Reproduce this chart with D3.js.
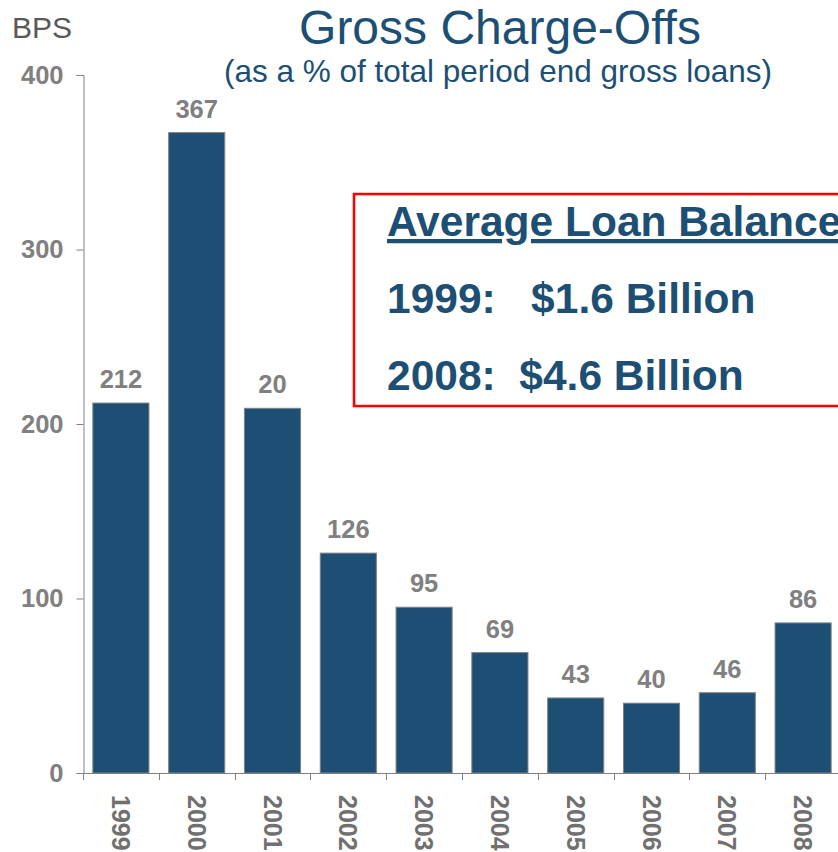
<!DOCTYPE html>
<html>
<head>
<meta charset="utf-8">
<script src="https://cdn.jsdelivr.net/npm/d3@7"></script>
<style>
  body { margin: 0; background: #fff; }
  svg { font-family: Arial, "Liberation Sans", sans-serif; display: block; }
</style>
</head>
<body>
<div id="chart"></div>
<script>
// Chart data
const years = ["1999", "2000", "2001", "2002", "2003", "2004", "2005", "2006", "2007", "2008"];
const chargeOffs = [212, 367, 209, 126, 95, 69, 43, 40, 46, 86];
const valueLabels = ["212", "367", "20", "126", "95", "69", "43", "40", "46", "86"];
const yTicks = [0, 100, 200, 300, 400];
const boxLines = ["1999:   $1.6 Billion", "2008:  $4.6 Billion"];

const width = 838;
const height = 852;
const blue = "#1c4f73";
const grey = "#808080";

const svg = d3.select("#chart")
    .append("svg")
    .attr("width", width)
    .attr("height", height);

// Scales
const x = d3.scaleBand()
    .domain(years)
    .range([83, 841])
    .paddingInner(0.26)
    .paddingOuter(0.13);

const y = d3.scaleLinear()
    .domain([0, 400])
    .range([773, 75]);

// Bars
svg.append("g")
    .selectAll("rect")
    .data(years)
    .enter().append("rect")
    .attr("x", (d, i) => x(d))
    .attr("y", (d, i) => y(chargeOffs[i]))
    .attr("width", x.bandwidth())
    .attr("height", (d, i) => y(0) - y(chargeOffs[i]))
    .attr("fill", blue)
    .attr("stroke", grey)
    .attr("stroke-width", 1);

// Value labels
svg.append("g")
    .selectAll("text")
    .data(years)
    .enter().append("text")
    .attr("x", d => x(d) + x.bandwidth() / 2)
    .attr("y", (d, i) => y(chargeOffs[i]) - 15)
    .attr("text-anchor", "middle")
    .attr("font-size", 25.5)
    .attr("font-weight", "bold")
    .attr("fill", grey)
    .text((d, i) => valueLabels[i]);

// Y axis
const yAxis = svg.append("g")
    .attr("transform", "translate(83.5,0)")
    .call(d3.axisLeft(y).tickValues(yTicks).tickSize(7).tickPadding(13));
yAxis.select(".domain").attr("stroke", grey);
yAxis.selectAll(".tick line").attr("stroke", grey);
yAxis.selectAll(".tick text")
    .attr("font-size", 25.5)
    .attr("font-weight", "bold")
    .attr("fill", grey)
    .attr("font-family", "Arial, 'Liberation Sans', sans-serif");

// X axis line and category separators
const step = x.step();
const x0 = 83;
svg.append("line")
    .attr("x1", x0).attr("x2", width)
    .attr("y1", y(0) + 0.5).attr("y2", y(0) + 0.5)
    .attr("stroke", grey);
svg.append("g")
    .selectAll("line")
    .data(years)
    .enter().append("line")
    .attr("x1", d => Math.round(x(d) - step * x.paddingInner() / 2) + 0.5)
    .attr("x2", d => Math.round(x(d) - step * x.paddingInner() / 2) + 0.5)
    .attr("y1", y(0))
    .attr("y2", y(0) + 7)
    .attr("stroke", grey);

// Year labels, rotated
svg.append("g")
    .selectAll("text")
    .data(years)
    .enter().append("text")
    .attr("transform", d => `translate(${x(d) + x.bandwidth() / 2 - 9},795) rotate(90)`)
    .attr("font-size", 25)
    .attr("font-weight", "bold")
    .attr("fill", "#707070")
    .attr("text-anchor", "start")
    .text(d => d);

// Titles
svg.append("text")
    .attr("x", 12).attr("y", 38)
    .attr("font-size", 30)
    .attr("fill", "#595959")
    .text("BPS");

svg.append("text")
    .attr("x", 500).attr("y", 44)
    .attr("text-anchor", "middle")
    .attr("font-size", 48)
    .attr("fill", blue)
    .text("Gross Charge-Offs");

svg.append("text")
    .attr("x", 498).attr("y", 82)
    .attr("text-anchor", "middle")
    .attr("font-size", 31.5)
    .attr("fill", blue)
    .text("(as a % of total period end gross loans)");

// Annotation box
svg.append("rect")
    .attr("x", 354).attr("y", 194)
    .attr("width", 500).attr("height", 212)
    .attr("fill", "none")
    .attr("stroke", "#ff0000")
    .attr("stroke-width", 2.5);

svg.append("text")
    .attr("x", 387).attr("y", 236)
    .attr("font-size", 42.5)
    .attr("font-weight", "bold")
    .attr("fill", blue)
    .attr("text-decoration", "underline")
    .text("Average Loan Balance");

svg.append("g")
    .selectAll("text")
    .data(boxLines)
    .enter().append("text")
    .attr("x", 387)
    .attr("y", (d, i) => 313 + i * 77)
    .attr("font-size", 42.5)
    .attr("font-weight", "bold")
    .attr("fill", blue)
    .attr("xml:space", "preserve")
    .style("white-space", "pre")
    .text(d => d);
</script>
</body>
</html>
